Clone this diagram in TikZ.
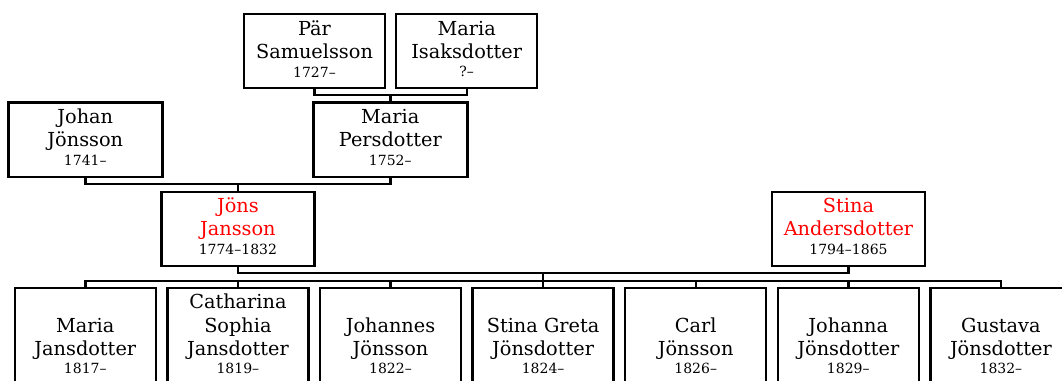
\documentclass[tikz,border=0pt]{standalone}
\usepackage{fontspec}
\setmainfont{DejaVu Serif}
\usetikzlibrary{calc}
\newcommand\namefont{\fontsize{19.3}{23.3}\selectfont}
\newcommand\yearfont{\fontsize{14}{18.3}\selectfont\color{black}}
\newcommand\pb[5]{\parbox[c][#2][b]{#1}{\centering\namefont #4\par{\yearfont #5\par}\vspace*{#3}}}
\tikzset{
  person/.style={draw, line width=2.4pt, inner sep=0pt, outer sep=0pt, anchor=center},
  link/.style={line width=2.4pt}
}
\begin{document}
\begin{tikzpicture}[x=1pt,y=-1pt]
\useasboundingbox (0,0) rectangle (1062,380);
\clip (0,0) rectangle (1062,380);
% generation 1
\node[person] (par) at (314.5,51) {\pb{141pt}{74pt}{11pt}{Pär\\Samuelsson}{1727–}};
\node[person] (isaks) at (466.7,51) {\pb{141pt}{74pt}{11pt}{Maria\\Isaksdotter}{?–}};
% generation 2
\node[person] (johan) at (85.3,139.5) {\pb{154pt}{74.4pt}{11.5pt}{Johan\\Jönsson}{1741–}};
\node[person] (persd) at (390.3,139.5) {\pb{154pt}{74.4pt}{11.5pt}{Maria\\Persdotter}{1752–}};
% generation 3
\node[person] (jons) at (237.9,228.7) {\pb{153pt}{74pt}{11.5pt}{\color{red}Jöns\\Jansson}{1774–1832}};
\node[person] (stina) at (848.5,228.7) {\pb{153pt}{74pt}{11.5pt}{\color{red}Stina\\Andersdotter}{1794–1865}};
% children
\node[person] (c1) at (85.3,338) {\pb{141pt}{100pt}{14pt}{Maria\\Jansdotter}{1817–}};
\node[person] (c2) at (237.9,338) {\pb{141pt}{100pt}{14pt}{Catharina\\Sophia\\Jansdotter}{1819–}};
\node[person] (c3) at (390.5,338) {\pb{141pt}{100pt}{14pt}{Johannes\\Jönsson}{1822–}};
\node[person] (c4) at (543.1,338) {\pb{141pt}{100pt}{14pt}{Stina Greta\\Jönsdotter}{1824–}};
\node[person] (c5) at (695.7,338) {\pb{141pt}{100pt}{14pt}{Carl\\Jönsson}{1826–}};
\node[person] (c6) at (848.3,338) {\pb{141pt}{100pt}{14pt}{Johanna\\Jönsdotter}{1829–}};
\node[person] (c7) at (1000.9,338) {\pb{141pt}{100pt}{14pt}{Gustava\\Jönsdotter}{1832–}};
% connectors
\draw[link] (par.south) -- ++(0,7) -| (isaks.south);
\draw[link] (persd.north) -- ++(0,-7);
\draw[link] (johan.south) -- ++(0,7) -| (persd.south);
\draw[link] (jons.north) -- ++(0,-7);
\draw[link] (jons.south) -- ++(0,7) -| (stina.south);
\coordinate (fam) at ($(jons.south)!0.5!(stina.south)+(0,7)$);
\draw[link] (fam) -- (fam |- c4.north);
\draw[link] (c1.north) -- ++(0,-7) -| (c7.north);
\foreach \c in {c2,c3,c4,c5,c6} { \draw[link] (\c.north) -- ++(0,-7); }
\end{tikzpicture}
\end{document}
